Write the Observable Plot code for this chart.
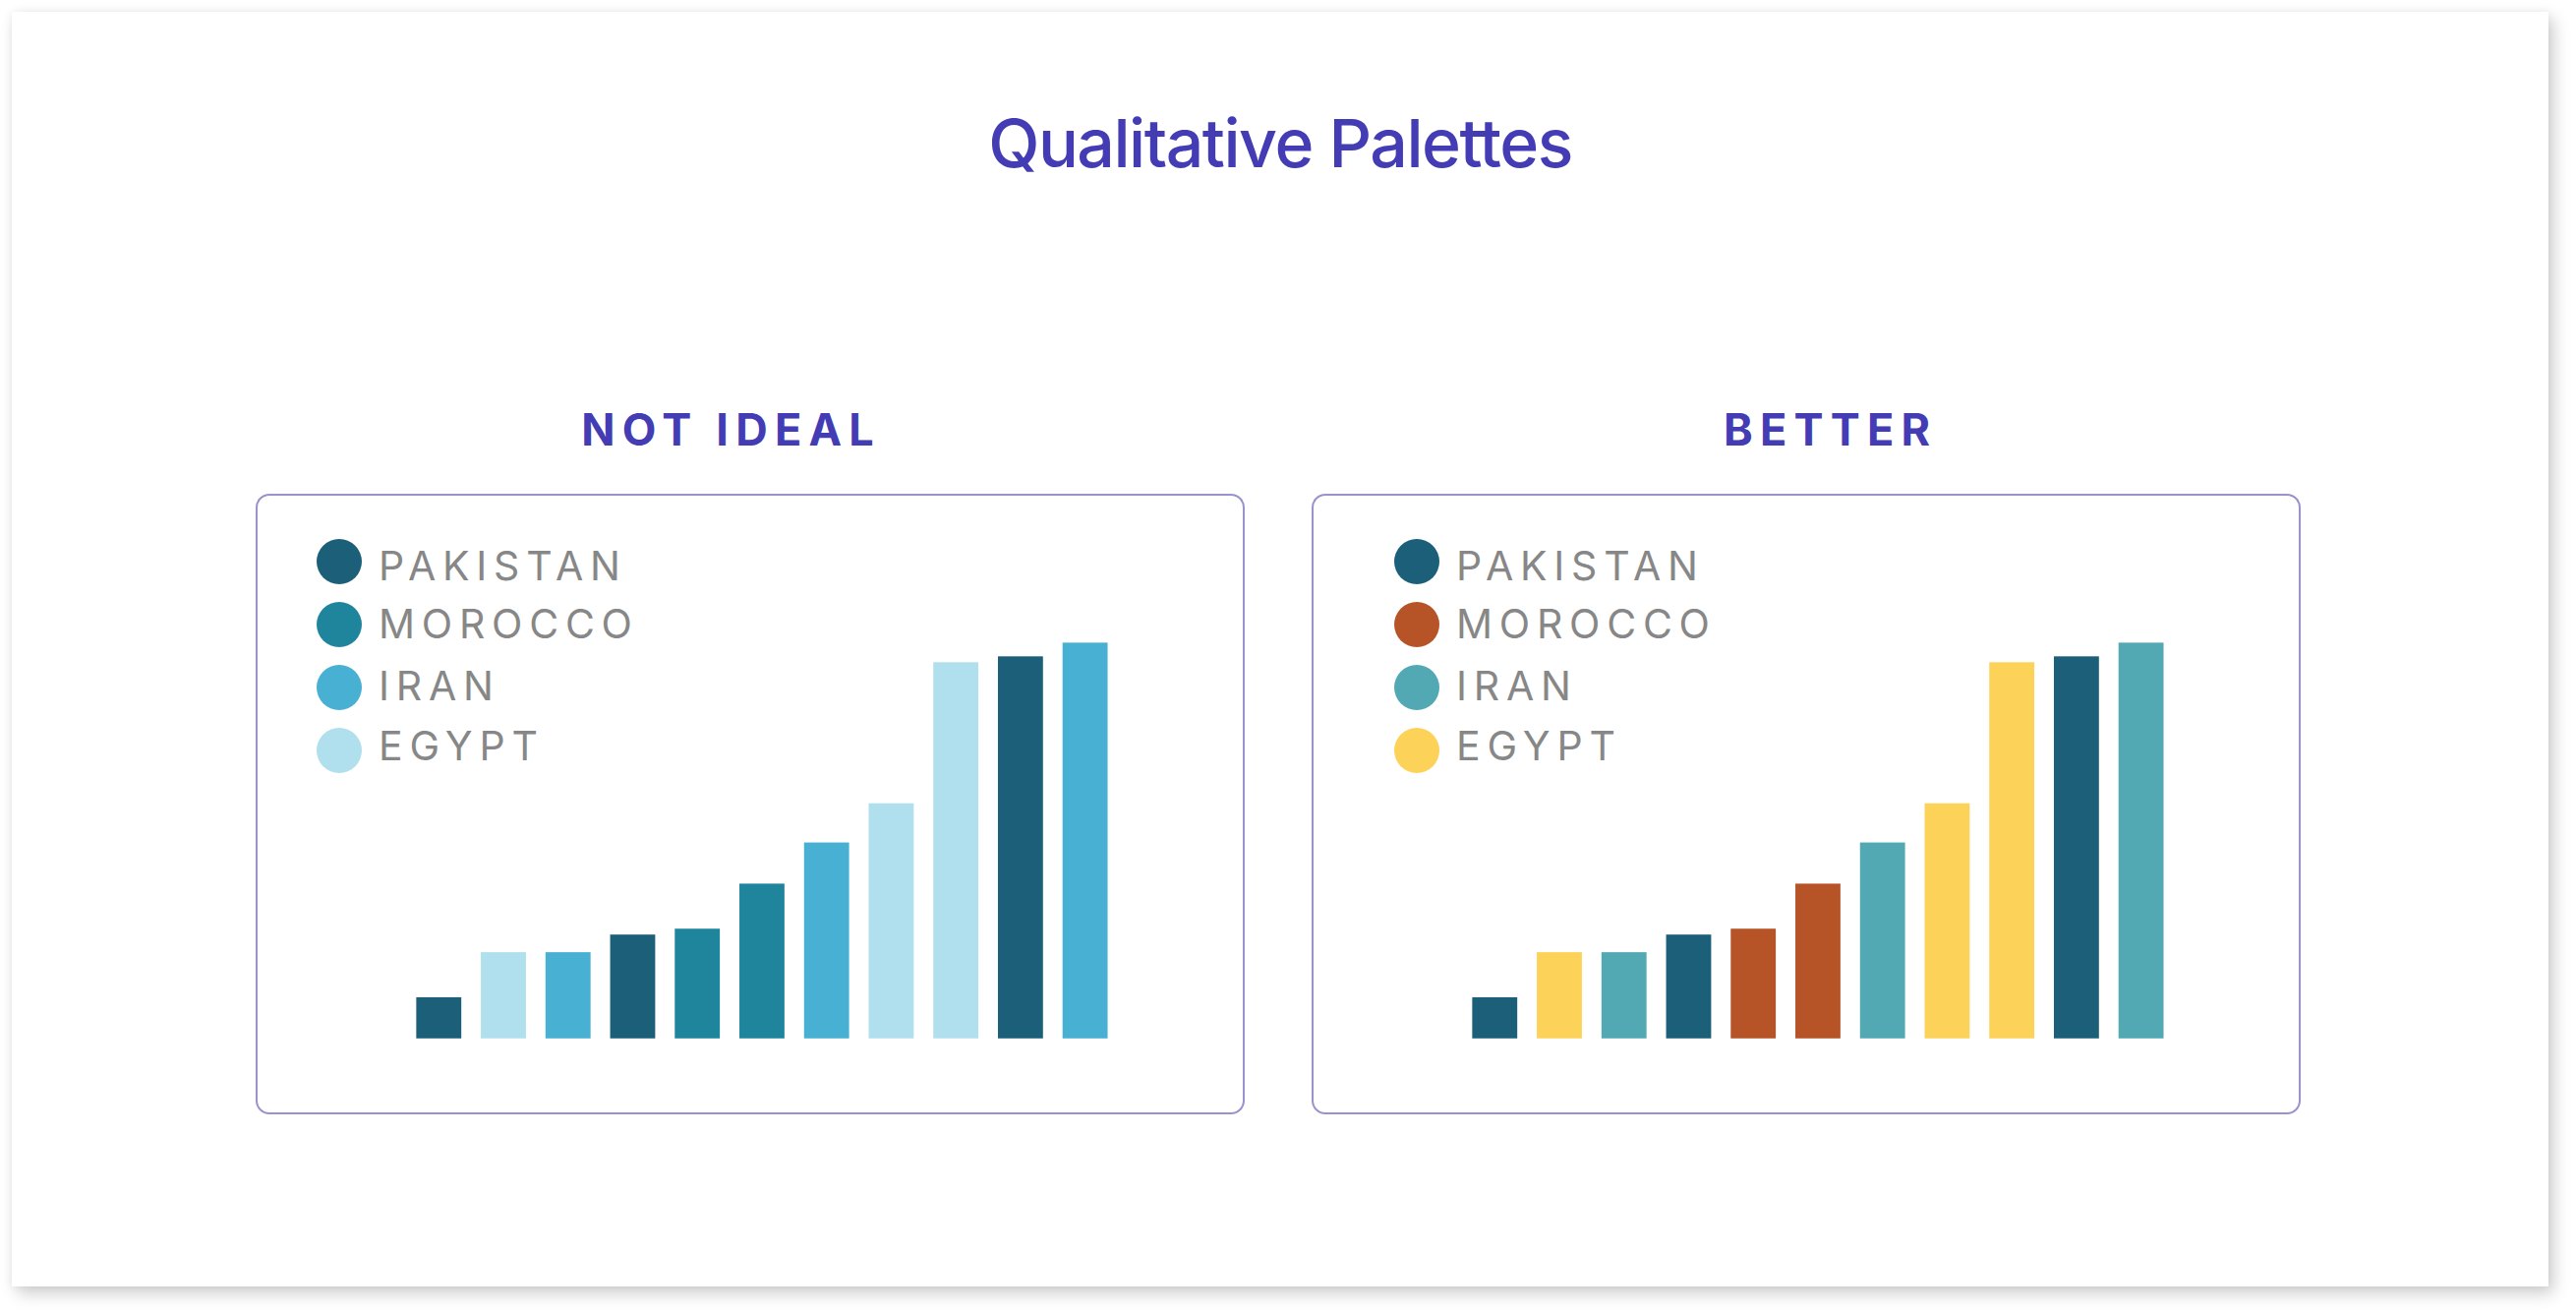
<!DOCTYPE html>
<html>
<head>
<meta charset="utf-8">
<script src="https://cdn.jsdelivr.net/npm/d3@7"></script>
<script src="https://cdn.jsdelivr.net/npm/@observablehq/plot@0.6"></script>
<style>
  html, body { margin: 0; padding: 0; background: #ffffff; }
  body { width: 2620px; height: 1336px; position: relative; overflow: hidden; font-family: Inter, "Noto Sans", sans-serif; }
  .card {
    position: absolute; left: 12px; top: 12px; width: 2580px; height: 1296px;
    background: #ffffff;
    box-shadow: 5px 7px 16px rgba(0,0,0,0.20), 0 0 8px rgba(0,0,0,0.05);
  }
  .title {
    position: absolute; left: 12px; width: 2580px; top: 111px;
    text-align: center; font-size: 68px; line-height: 1; font-weight: 500;
    letter-spacing: -0.022em; color: #433cb4;
  }
  .subtitle {
    position: absolute; top: 414px; font-size: 45px; line-height: 1; font-weight: 700;
    letter-spacing: 0.16em; color: #433cb4; white-space: nowrap;
    transform: translateX(-50%); padding-left: 0.16em;
  }
  .panel {
    position: absolute; top: 502px; width: 1006px; height: 631px;
    box-sizing: border-box; border: 2px solid #9893cc; border-radius: 14px;
  }
  .panel svg { position: absolute; left: -2px; top: -2px; }
  .legend { position: absolute; display: flex; flex-direction: column; }
  .legend .row { height: 64px; display: flex; align-items: center; }
  .legend .sw { width: 46px; height: 46px; border-radius: 50%; flex: none; }
  .legend .lab {
    font-size: 41px; line-height: 1; font-weight: 400; color: #878787;
    letter-spacing: 0.165em; margin-left: 17px; position: relative;
  }
</style>
</head>
<body>
<div class="card"></div>
<div class="title">Qualitative Palettes</div>
<div id="root"></div>
<script>
// Series shown in the legend
const countries = ["PAKISTAN", "MOROCCO", "IRAN", "EGYPT"];

// One palette per panel, in the same order as the countries
const notIdealColors = ["#1c5f79", "#1f859d", "#47b0d3", "#b0dfed"];
const betterColors = ["#1b5f79", "#b65327", "#52a9b4", "#fdd259"];

// Bars, left to right: which country each belongs to and its value
const barCountry = ["PAKISTAN", "EGYPT", "IRAN", "PAKISTAN", "MOROCCO", "MOROCCO", "IRAN", "EGYPT", "EGYPT", "PAKISTAN", "IRAN"];
const barValue = [42, 88, 88, 106, 112, 158, 200, 240, 384, 390, 404];

// Panel headings
const panelTitles = ["NOT IDEAL", "BETTER"];

const bars = barValue.map((value, i) => ({i, value, country: barCountry[i]}));

const panels = [
  {title: panelTitles[0], colors: notIdealColors, left: 260, titleX: 740, legendX: 322},
  {title: panelTitles[1], colors: betterColors, left: 1334, titleX: 1858, legendX: 1418}
];

// vertical nudge of each legend label relative to its swatch
const labelShift = [4, -1, -2, -5];

const root = document.getElementById("root");

for (const p of panels) {
  const head = document.createElement("div");
  head.className = "subtitle";
  head.style.left = p.titleX + "px";
  head.textContent = p.title;
  root.appendChild(head);

  const box = document.createElement("div");
  box.className = "panel";
  box.style.left = p.left + "px";
  root.appendChild(box);

  const chart = Plot.plot({
    width: 1006,
    height: 630,
    margin: 0,
    style: {background: "transparent", overflow: "visible"},
    x: {type: "band", domain: d3.range(bars.length), range: [164, 870], paddingInner: 20 / 66, paddingOuter: 0, round: false, axis: null},
    y: {domain: [0, 404], range: [556, 152], axis: null},
    color: {domain: countries, range: p.colors},
    marks: [
      Plot.barY(bars, {x: "i", y: "value", fill: "country", inset: 0})
    ]
  });
  box.appendChild(chart);

  const legend = document.createElement("div");
  legend.className = "legend";
  legend.style.left = p.legendX + "px";
  legend.style.top = "539px";
  countries.forEach((c, k) => {
    const row = document.createElement("div");
    row.className = "row";
    const sw = document.createElement("div");
    sw.className = "sw";
    sw.style.background = p.colors[k];
    const lab = document.createElement("div");
    lab.className = "lab";
    lab.style.top = labelShift[k] + "px";
    lab.textContent = c;
    row.appendChild(sw);
    row.appendChild(lab);
    legend.appendChild(row);
  });
  root.appendChild(legend);
}
</script>
</body>
</html>
